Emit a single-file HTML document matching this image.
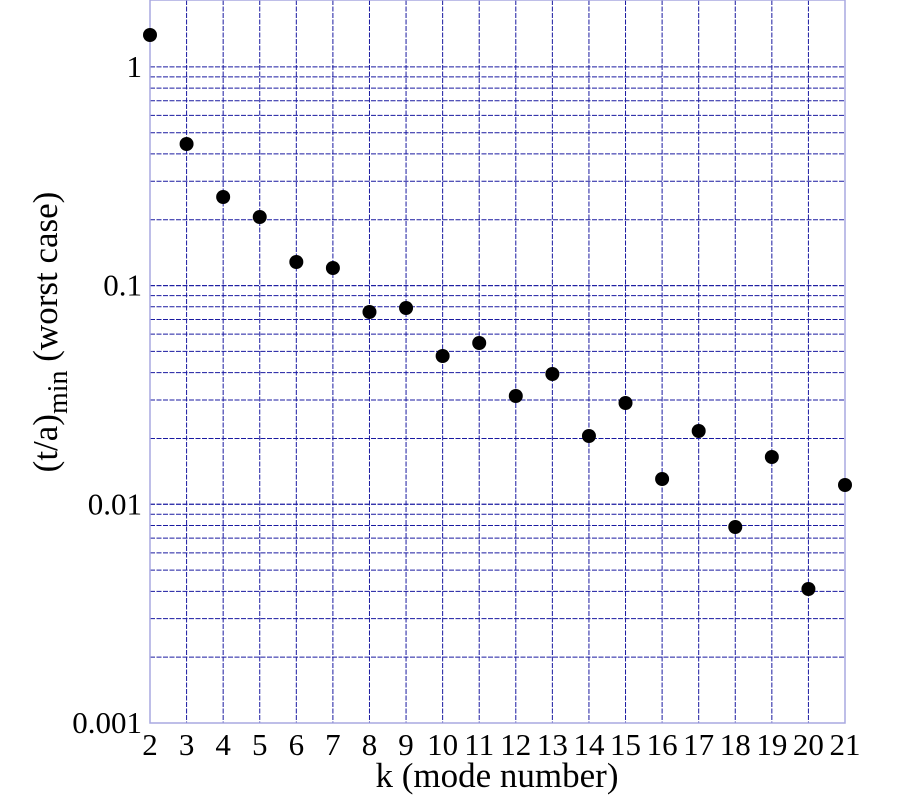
<!DOCTYPE html>
<html><head><meta charset="utf-8"><style>body{margin:0;background:#fff}svg{display:block}</style></head>
<body>
<svg width="900" height="800" xmlns="http://www.w3.org/2000/svg" font-family="Liberation Serif, serif" font-size="31">
<g id="grid" stroke="#1a1aa0" stroke-width="1" stroke-dasharray="5,1.5"></g>
<rect x="150" y="0" width="695" height="723" fill="none" stroke="#a8a8e0" stroke-width="1.5"/>
<g id="pts" fill="#000"></g>
<g id="lbl" fill="#000"></g>
<text x="497" y="787" text-anchor="middle" font-size="35">k (mode number)</text>
<text transform="translate(57,332) rotate(-90)" text-anchor="middle" font-size="35">(t/a)<tspan dy="10" font-size="28">min</tspan><tspan dy="-10"> (worst case)</tspan></text>
<script>
var ns="http://www.w3.org/2000/svg";
function X(k){return 150+(k-2)*695/19;}
function Y(v){return 723-218.7*(Math.log10(v)+3);}
var g=document.getElementById('grid'),p=document.getElementById('pts'),l=document.getElementById('lbl');
function el(par,t,a,txt){var e=document.createElementNS(ns,t);for(var k in a)e.setAttribute(k,a[k]);if(txt)e.textContent=txt;par.appendChild(e);}
for(var k=3;k<=20;k++)el(g,'line',{x1:X(k),x2:X(k),y1:0,y2:723});
[0.001,0.01,0.1].forEach(function(d){for(var m=1;m<=10;m++){var v=d*m;if(v<=0.0011&&m==1)continue;var y=Y(v);el(g,'line',{x1:150,x2:845,y1:y,y2:y});}});
var pts=[[2,35],[3,144],[4,197],[5,217],[6,262],[7,268],[8,312],[9,308],[10,356],[11,343],[12,396],[13,374],[14,436],[15,403],[16,479],[17,431],[18,527],[19,457],[20,589],[21,485]];
pts.forEach(function(q){el(p,'circle',{cx:X(q[0]),cy:q[1],r:7});});
for(var k=2;k<=21;k++)el(l,'text',{x:X(k),y:755,'text-anchor':'middle'},String(k));
[["1",1],["0.1",0.1],["0.01",0.01],["0.001",0.001]].forEach(function(t){el(l,'text',{x:142,y:Y(t[1])+10,'text-anchor':'end'},t[0]);});
</script>
</svg>
</body></html>
